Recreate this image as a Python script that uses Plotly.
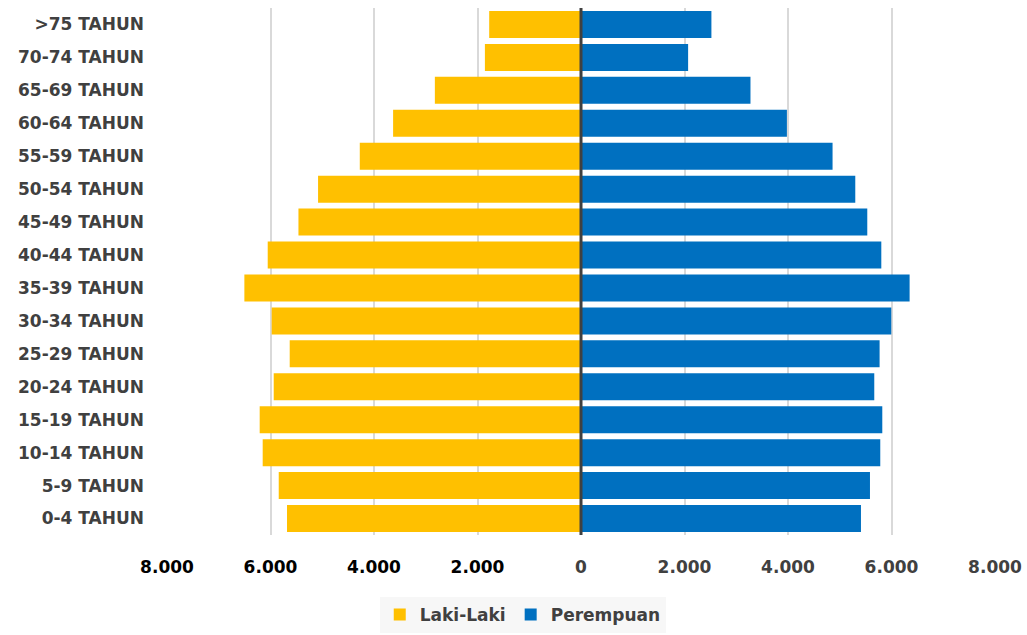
import plotly.graph_objects as go

# Age groups, listed from the top row down
kelompok_umur = [
    ">75 TAHUN", "70-74 TAHUN", "65-69 TAHUN", "60-64 TAHUN",
    "55-59 TAHUN", "50-54 TAHUN", "45-49 TAHUN", "40-44 TAHUN",
    "35-39 TAHUN", "30-34 TAHUN", "25-29 TAHUN", "20-24 TAHUN",
    "15-19 TAHUN", "10-14 TAHUN", "5-9 TAHUN", "0-4 TAHUN",
]
laki_laki = [1774, 1857, 2824, 3631, 4275, 5081, 5460, 6054,
             6505, 5977, 5629, 5938, 6209, 6151, 5841, 5681]
perempuan = [2520, 2070, 3275, 3979, 4861, 5300, 5532, 5803,
             6350, 5996, 5770, 5667, 5822, 5783, 5584, 5410]

tick_vals = [-8000, -6000, -4000, -2000, 0, 2000, 4000, 6000, 8000]
tick_text = ["8.000", "6.000", "4.000", "2.000", "0", "2.000", "4.000", "6.000", "8.000"]

FONT = "DejaVu Sans"
DARK = "#404040"
SIZE = 17

# Left-hand labels in black, centre and right in dark grey
tick_labels = [
    f"<span style='color:#000000'>{t}</span>" if v < 0 else t
    for v, t in zip(tick_vals, tick_text)
]

fig = go.Figure()
fig.add_trace(go.Bar(
    y=kelompok_umur,
    x=[-v for v in laki_laki],
    customdata=laki_laki,
    orientation="h",
    name="Laki-Laki",
    marker=dict(color="#FFC000", line=dict(width=0)),
    hovertemplate="%{y}: %{customdata}<extra>Laki-Laki</extra>",
))
fig.add_trace(go.Bar(
    y=kelompok_umur,
    x=perempuan,
    orientation="h",
    name="Perempuan",
    marker=dict(color="#0070C0", line=dict(width=0)),
    hovertemplate="%{y}: %{x}<extra>Perempuan</extra>",
))

# Dark divider along the zero line
fig.add_shape(
    type="line", xref="x", yref="paper",
    x0=0, x1=0, y0=0, y1=1,
    line=dict(color=DARK, width=3), layer="above",
)

fig.update_layout(
    width=1027, height=635,
    margin=dict(l=167, r=32, t=8, b=100),
    barmode="relative",
    bargap=0.18,
    plot_bgcolor="white",
    paper_bgcolor="white",
    font=dict(family=FONT, color=DARK, size=SIZE),
    xaxis=dict(
        range=[-8000, 8000],
        tickvals=tick_vals,
        ticktext=tick_labels,
        tickfont=dict(family=FONT, size=SIZE, color=DARK, weight="bold"),
        showgrid=True, gridcolor="#d9d9d9", gridwidth=1.5,
        zeroline=False, showline=False,
        ticklabelstandoff=20,
        automargin=False,
        fixedrange=True,
    ),
    yaxis=dict(
        categoryorder="array",
        categoryarray=kelompok_umur,
        autorange="reversed",
        tickfont=dict(family=FONT, size=SIZE, color=DARK, weight="bold"),
        showgrid=False, zeroline=False, showline=False,
        ticklabelstandoff=22,
        automargin=False,
    ),
    legend=dict(
        orientation="h",
        xref="container", yref="container",
        x=0.509, xanchor="center",
        y=0.06, yanchor="top",
        bgcolor="#f7f7f7",
        font=dict(family=FONT, size=SIZE, color=DARK, weight="bold"),
        itemsizing="constant",
        traceorder="normal",
    ),
    showlegend=True,
)

fig.write_html("out.html")
